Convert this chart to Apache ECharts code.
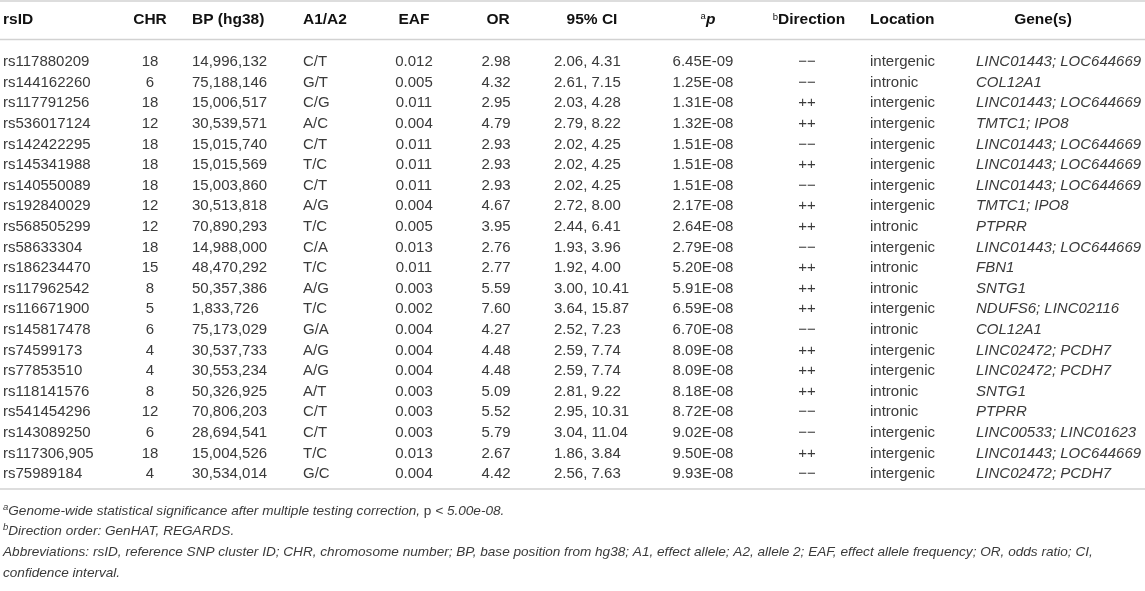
<!DOCTYPE html>
<html><head><meta charset="utf-8">
<script src="https://cdn.jsdelivr.net/npm/echarts@6/dist/echarts.min.js"></script>
<style>html,body{margin:0;padding:0;background:#fff}#c{width:1145px;height:591px}</style>
</head><body><div id="c"></div>
<script>
const rsIds = ['rs117880209','rs144162260','rs117791256','rs536017124','rs142422295','rs145341988','rs140550089','rs192840029','rs568505299','rs58633304','rs186234470','rs117962542','rs116671900','rs145817478','rs74599173','rs77853510','rs118141576','rs541454296','rs143089250','rs117306,905','rs75989184'];
const chr = [18,6,18,12,18,18,18,12,12,18,15,8,5,6,4,4,8,12,6,18,4];
const bp = [14996132,75188146,15006517,30539571,15015740,15015569,15003860,30513818,70890293,14988000,48470292,50357386,1833726,75173029,30537733,30553234,50326925,70806203,28694541,15004526,30534014];
const alleles = ['C/T','G/T','C/G','A/C','C/T','T/C','C/T','A/G','T/C','C/A','T/C','A/G','T/C','G/A','A/G','A/G','A/T','C/T','C/T','T/C','G/C'];
const eaf = [0.012,0.005,0.011,0.004,0.011,0.011,0.011,0.004,0.005,0.013,0.011,0.003,0.002,0.004,0.004,0.004,0.003,0.003,0.003,0.013,0.004];
const oddsRatio = [2.98,4.32,2.95,4.79,2.93,2.93,2.93,4.67,3.95,2.76,2.77,5.59,7.60,4.27,4.48,4.48,5.09,5.52,5.79,2.67,4.42];
const ciLow = [2.06,2.61,2.03,2.79,2.02,2.02,2.02,2.72,2.44,1.93,1.92,3.00,3.64,2.52,2.59,2.59,2.81,2.95,3.04,1.86,2.56];
const ciHigh = [4.31,7.15,4.28,8.22,4.25,4.25,4.25,8.00,6.41,3.96,4.00,10.41,15.87,7.23,7.74,7.74,9.22,10.31,11.04,3.84,7.63];
const pValues = ['6.45E-09','1.25E-08','1.31E-08','1.32E-08','1.51E-08','1.51E-08','1.51E-08','2.17E-08','2.64E-08','2.79E-08','5.20E-08','5.91E-08','6.59E-08','6.70E-08','8.09E-08','8.09E-08','8.18E-08','8.72E-08','9.02E-08','9.50E-08','9.93E-08'];
const direction = ['\u2212\u2212','\u2212\u2212','++','++','\u2212\u2212','++','\u2212\u2212','++','++','\u2212\u2212','++','++','++','\u2212\u2212','++','++','++','\u2212\u2212','\u2212\u2212','++','\u2212\u2212'];
const locations = ['intergenic','intronic','intergenic','intergenic','intergenic','intergenic','intergenic','intergenic','intronic','intergenic','intronic','intronic','intergenic','intronic','intergenic','intergenic','intronic','intronic','intergenic','intergenic','intergenic'];
const genes = ['LINC01443; LOC644669','COL12A1','LINC01443; LOC644669','TMTC1; IPO8','LINC01443; LOC644669','LINC01443; LOC644669','LINC01443; LOC644669','TMTC1; IPO8','PTPRR','LINC01443; LOC644669','FBN1','SNTG1','NDUFS6; LINC02116','COL12A1','LINC02472; PCDH7','LINC02472; PCDH7','SNTG1','PTPRR','LINC00533; LINC01623','LINC01443; LOC644669','LINC02472; PCDH7'];
const headers = ['rsID','CHR','BP (hg38)','A1/A2','EAF','OR','95% CI','{sup|a}{pi|p}','{sup|b}Direction','Location','Gene(s)'];
const footnotes = [
  '{supi|a}{i|Genome-wide statistical significance after multiple testing correction, }{n|p}{i| < 5.00e-08.}',
  '{supi|b}{i|Direction order: GenHAT, REGARDS.}',
  '{i|Abbreviations: rsID, reference SNP cluster ID; CHR, chromosome number; BP, base position from hg38; A1, effect allele; A2, allele 2; EAF, effect allele frequency; OR, odds ratio; CI,}',
  '{i|confidence interval.}'
];

// layout (positions / styles only)
const FONT = '"Liberation Sans", Arial, Helvetica, sans-serif';
const cellCols = [
  {x: 3, align: 'left'}, {x: 150, align: 'center'}, {x: 192, align: 'left'}, {x: 303, align: 'left'},
  {x: 414, align: 'center'}, {x: 496, align: 'center'}, {x: 554, align: 'left'}, {x: 703, align: 'center'},
  {x: 807, align: 'center'}, {x: 870, align: 'left'}, {x: 976, align: 'left', italic: true}
];
const headCols = [
  {x: 3, align: 'left'}, {x: 150, align: 'center'}, {x: 192, align: 'left'}, {x: 303, align: 'left'},
  {x: 414, align: 'center'}, {x: 498, align: 'center'}, {x: 592, align: 'center'}, {x: 708, align: 'center'},
  {x: 809, align: 'center'}, {x: 870, align: 'left'}, {x: 1043, align: 'center'}
];
const HEAD_Y = 20, LINE_TOP = 1, LINE_HEAD = 39.5, LINE_BOTTOM = 489;
const FOOT_Y = [511, 531, 552, 573];
const LINE_COLOR = '#d2d2d2';
const TEXT_COLOR = '#3a3a3a';

function rowCells(i) {
  return [
    rsIds[i], String(chr[i]), bp[i].toLocaleString('en-US'), alleles[i],
    eaf[i].toFixed(3), oddsRatio[i].toFixed(2), ciLow[i].toFixed(2) + ', ' + ciHigh[i].toFixed(2),
    pValues[i], direction[i], locations[i], genes[i]
  ];
}

const chart = echarts.init(document.getElementById('c'), null, {renderer: 'canvas'});

const graphic = [];
[LINE_TOP, LINE_HEAD, LINE_BOTTOM].forEach(y => graphic.push({
  type: 'line', shape: {x1: 0, y1: y, x2: 1145, y2: y}, style: {stroke: LINE_COLOR, lineWidth: 1.5}, silent: true
}));
headers.forEach((h, k) => graphic.push({
  type: 'text', x: headCols[k].x, y: HEAD_Y, silent: true,
  style: {
    text: h, align: headCols[k].align, verticalAlign: 'middle',
    fontFamily: FONT, fontSize: 15.5, fontWeight: 'bold', fill: '#111',
    rich: {
      sup: {fontFamily: FONT, fontSize: 9.5, fontWeight: 'normal', fill: '#111', verticalAlign: 'top', lineHeight: 9},
      pi: {fontFamily: FONT, fontSize: 15.5, fontWeight: 'bold', fontStyle: 'italic', fill: '#111', lineHeight: 18}
    }
  }
}));
footnotes.forEach((f, k) => graphic.push({
  type: 'text', x: 3, y: FOOT_Y[k], silent: true,
  style: {
    text: f, align: 'left', verticalAlign: 'middle', fontFamily: FONT, fontSize: 13.6, fill: TEXT_COLOR,
    rich: {
      i: {fontFamily: FONT, fontSize: 13.6, fontStyle: 'italic', fill: TEXT_COLOR, lineHeight: 17},
      n: {fontFamily: FONT, fontSize: 13.6, fill: TEXT_COLOR, lineHeight: 17},
      supi: {fontFamily: FONT, fontSize: 9.5, fontStyle: 'italic', fill: TEXT_COLOR, verticalAlign: 'top', lineHeight: 8}
    }
  }
}));

chart.setOption({
  animation: false,
  backgroundColor: '#fff',
  grid: {left: 0, right: 0, top: 51.7, height: 432.6},
  xAxis: {type: 'value', min: 0, max: 1145, show: false},
  yAxis: {type: 'category', data: rsIds, inverse: true, show: false},
  graphic: graphic,
  series: [{
    type: 'custom',
    data: rsIds.map((_, i) => [0, i]),
    encode: {x: 0, y: 1},
    renderItem: function (params, api) {
      const i = api.value(1);
      const y = api.coord([0, i])[1];
      const cells = rowCells(i);
      return {
        type: 'group',
        children: cells.map((t, k) => ({
          type: 'text',
          style: {
            x: api.coord([cellCols[k].x, i])[0], y: y, text: t,
            align: cellCols[k].align, verticalAlign: 'middle',
            fontFamily: FONT, fontSize: 15, fontStyle: cellCols[k].italic ? 'italic' : 'normal',
            fill: TEXT_COLOR
          }
        }))
      };
    }
  }]
});
</script>
</body></html>
